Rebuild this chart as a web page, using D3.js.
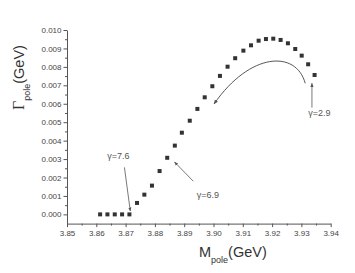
<!DOCTYPE html>
<html>
<head>
<meta charset="utf-8">
<script src="https://cdn.jsdelivr.net/npm/d3@7"></script>
<style>
  body { margin: 0; background: #fff; }
  .axis path, .axis line { stroke: #555; }
  .axis text { font: 8px Arial, "Liberation Sans", sans-serif; fill: #444; }
</style>
</head>
<body>
<svg class="chart" width="355" height="273"></svg>
<script>
// pole mass (GeV) and pole width (GeV)
var mPole = [3.8613, 3.8638, 3.8663, 3.8688, 3.8713, 3.8739, 3.8764, 3.8790, 3.8816, 3.8842,
             3.8868, 3.8892, 3.8919, 3.8945, 3.8970, 3.8996, 3.9022, 3.9048, 3.9074, 3.9102,
             3.9128, 3.9154, 3.9179, 3.9204, 3.9229, 3.9254, 3.9279, 3.9301, 3.9323, 3.9345];
var gPole = [0, 0, 0, 0, 0, 0.00062, 0.00107, 0.00156, 0.00235, 0.00307,
             0.00373, 0.00443, 0.00508, 0.00572, 0.00635, 0.00695, 0.00751, 0.00801, 0.00847, 0.00888,
             0.00917, 0.00942, 0.00951, 0.00953, 0.00946, 0.00928, 0.00897, 0.00861, 0.00814, 0.00756];

var xTicks = [3.85, 3.86, 3.87, 3.88, 3.89, 3.90, 3.91, 3.92, 3.93, 3.94];
var yTicks = [0, 0.001, 0.002, 0.003, 0.004, 0.005, 0.006, 0.007, 0.008, 0.009, 0.010];

// gamma labels: text position and arrow (from -> to), in data units
var gammaLabels = ["\u03b3=7.6", "\u03b3=6.9", "\u03b3=2.9"];
var labelPos = [[3.8637, 0.0030], [3.8943, 0.00089], [3.9323, 0.00534]];
var arrowFrom = [[3.8696, 0.00255], [3.8931, 0.00180], [3.9336, 0.00579]];
var arrowTo = [[3.8716, 0.00018], [3.8867, 0.00284], [3.9336, 0.00711]];
// curved arrow: start, two control points, end
var curve = [[3.9313, 0.00711], [3.9282, 0.00892], [3.9125, 0.00881], [3.9002, 0.00599]];

var svg = d3.select("svg.chart"),
    margin = {top: 30, left: 67},
    width = 263.7,
    height = 193.6,
    g = svg.append("g").attr("transform", "translate(" + margin.left + "," + margin.top + ")");

var x = d3.scaleLinear().domain([3.85, 3.94]).range([0, width]),
    y = d3.scaleLinear().domain([-0.0005, 0.010]).range([height, 0]);

var defs = svg.append("defs");
defs.append("marker")
    .attr("id", "head")
    .attr("viewBox", "0 0 10 10")
    .attr("refX", 9).attr("refY", 5)
    .attr("markerWidth", 5).attr("markerHeight", 5)
    .attr("orient", "auto")
    .append("path")
    .attr("d", "M0,1 L10,5 L0,9 Z")
    .attr("fill", "#555");

// minor ticks first
g.append("g")
    .attr("class", "axis")
    .attr("transform", "translate(0," + height + ")")
    .call(d3.axisBottom(x).tickValues(d3.range(3.855, 3.94, 0.01)).tickSize(2).tickFormat(""))
    .select(".domain").remove();
g.append("g")
    .attr("class", "axis")
    .call(d3.axisLeft(y).tickValues(d3.range(0.0005, 0.010, 0.001)).tickSize(2).tickFormat(""))
    .select(".domain").remove();

g.append("g")
    .attr("class", "axis")
    .attr("transform", "translate(0," + height + ")")
    .call(d3.axisBottom(x).tickValues(xTicks).tickSize(3.5).tickSizeOuter(0).tickPadding(3).tickFormat(d3.format(".2f")));

g.append("g")
    .attr("class", "axis")
    .call(d3.axisLeft(y).tickValues(yTicks).tickSize(3.5).tickSizeOuter(0).tickPadding(2).tickFormat(d3.format(".3f")));

// data points
g.selectAll(".pt")
    .data(mPole)
    .enter().append("rect")
    .attr("class", "pt")
    .attr("x", function(d) { return x(d) - 2; })
    .attr("y", function(d, i) { return y(gPole[i]) - 2; })
    .attr("width", 4)
    .attr("height", 4)
    .attr("fill", "#333");

// straight arrows + labels
gammaLabels.forEach(function(t, i) {
    g.append("line")
        .attr("x1", x(arrowFrom[i][0])).attr("y1", y(arrowFrom[i][1]))
        .attr("x2", x(arrowTo[i][0])).attr("y2", y(arrowTo[i][1]))
        .attr("stroke", "#555")
        .attr("stroke-width", 0.8)
        .attr("marker-end", "url(#head)");
    g.append("text")
        .attr("x", x(labelPos[i][0]))
        .attr("y", y(labelPos[i][1]))
        .style("font", "9px Arial, 'Liberation Sans', sans-serif")
        .attr("fill", "#555")
        .text(t);
});

// curved arrow
var p = curve.map(function(c) { return x(c[0]) + "," + y(c[1]); });
g.append("path")
    .attr("d", "M" + p[0] + " C" + p[1] + " " + p[2] + " " + p[3])
    .attr("fill", "none")
    .attr("stroke", "#444")
    .attr("stroke-width", 0.9)
    .attr("marker-end", "url(#head)");

// axis titles
var xt = svg.append("text")
    .attr("x", 199)
    .attr("y", 257)
    .attr("fill", "#333")
    .style("font", "14.5px Arial, 'Liberation Sans', sans-serif");
xt.append("tspan").text("M");
xt.append("tspan").attr("dy", 6).style("font-size", "9px").text("pole");
xt.append("tspan").attr("dy", -6).text("(GeV)");

var yt = svg.append("text")
    .attr("transform", "translate(24,110) rotate(-90)")
    .attr("fill", "#333")
    .style("font", "14.5px Arial, 'Liberation Sans', sans-serif");
yt.append("tspan").style("font-family", "'Liberation Serif', 'Times New Roman', serif").style("font-size", "16px").text("\u0393");
yt.append("tspan").attr("dy", 6).style("font-size", "9px").text("pole");
yt.append("tspan").attr("dy", -6).text("(GeV)");
</script>
</body>
</html>
